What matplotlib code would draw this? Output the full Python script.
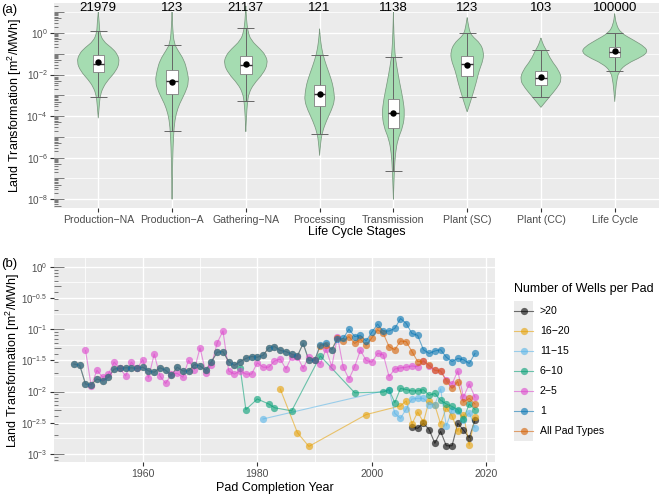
import numpy as np
import matplotlib
matplotlib.use("Agg")
import matplotlib.pyplot as plt
from matplotlib.patches import Rectangle, PathPatch
from matplotlib.path import Path
from matplotlib.lines import Line2D

plt.rcParams['font.family'] = ['Liberation Sans', 'DejaVu Sans']
plt.rcParams['mathtext.fontset'] = 'custom'
plt.rcParams['mathtext.rm'] = 'Liberation Sans'
plt.rcParams['mathtext.it'] = 'Liberation Sans:italic'
plt.rcParams['mathtext.bf'] = 'Liberation Sans:bold'

# ---------------- panel (a) data (log10 of m2/MWh) ----------------
stages = ['Production\u2212NA', 'Production\u2212A', 'Gathering\u2212NA', 'Processing',
          'Transmission', 'Plant (SC)', 'Plant (CC)', 'Life Cycle']
counts = ['21979', '123', '21137', '121', '1138', '123', '103', '100000']
whisker_low = [-3.06, -4.72, -3.28, -4.88, -6.64, -3.10, -3.07, -1.84]
q1 = [-1.87, -2.96, -1.98, -3.49, -4.59, -2.08, -2.51, -1.15]
median = [-1.47, -2.32, -1.55, -2.95, -3.84, -1.47, -2.19, -0.91]
q3 = [-1.07, -1.76, -1.10, -2.48, -3.20, -1.10, -1.82, -0.67]
whisker_high = [0.11, -0.56, 0.24, -1.07, -1.15, 0.02, -0.80, 0.02]
mean = [-1.42, -2.38, -1.47, -2.94, -3.84, -1.55, -2.11, -0.88]

# violin outlines: log10 value and half width (pixels)
violin_log = [
    [1.0, 0.5, 0.0, -0.4, -0.7, -1.0, -1.4, -1.85, -2.25, -2.6, -3.0, -3.5, -4.1],
    [1.0, 0.2, -0.5, -0.85, -1.3, -1.8, -2.35, -2.9, -3.4, -3.9, -4.5, -5.5, -6.5, -8.0],
    [1.3, 0.6, 0.1, -0.35, -0.8, -1.1, -1.47, -1.95, -2.45, -2.9, -3.4, -4.0, -4.75],
    [0.2, -0.4, -1.0, -1.6, -2.0, -2.45, -2.9, -3.25, -3.7, -4.2, -4.8, -5.3, -5.9],
    [1.0, 0.0, -1.0, -1.6, -2.4, -3.2, -3.85, -4.5, -5.1, -5.8, -6.6, -7.3, -8.0],
    [0.74, 0.3, 0.0, -0.2, -0.5, -0.9, -1.3, -1.8, -2.4, -3.05, -3.5, -3.8],
    [-0.24, -0.6, -0.83, -1.3, -1.8, -2.25, -2.65, -3.05, -3.4, -3.58],
    [0.93, 0.4, 0.0, -0.35, -0.67, -0.91, -1.15, -1.47, -1.84, -2.4, -3.31],
]
violin_halfwidth_px = [
    [0, 1, 1.5, 5, 13, 19, 21.5, 17.5, 10, 5, 2, 1, 0],
    [0, 0.7, 2, 6, 12, 15, 17, 13, 7.5, 4, 2, 1, 0.5, 0],
    [0, 0.8, 2, 5, 15, 20, 22, 17.5, 8, 3, 1.5, 0.7, 0],
    [0, 1, 3, 7, 10, 13, 14.5, 15, 12, 7, 2.5, 1, 0],
    [0, 0.5, 1.5, 3.3, 6.3, 9.7, 11.3, 9.7, 4.5, 2, 1, 0.5, 0],
    [0, 1.5, 3, 6, 13, 16.5, 16, 12, 9, 5, 2, 0],
    [0, 2.5, 5.5, 10, 18, 21, 16, 9, 3, 0],
    [0, 1.5, 6, 19, 30, 33, 27, 12.5, 4, 1.5, 0],
]

# ---------------- panel (b) data (log10 of m2/MWh) ----------------
years_gt20 = [2007, 2008, 2009, 2010, 2011, 2012, 2013, 2014, 2015, 2016, 2017, 2018]
log_gt20 = [-2.57, -2.59, -2.51, -2.61, -2.83, -2.64, -2.87, -2.87, -2.51, -2.62, -2.74, -2.46]

years_16_20 = [1984, 1987, 1989, 1999, 2005, 2006, 2007, 2008, 2009, 2010, 2011, 2012,
               2013, 2014, 2015, 2016, 2017, 2018]
log_16_20 = [-1.96, -2.66, -2.88, -2.37, -2.23, -2.15, -2.52, -2.33, -2.49, -2.15, -2.22, -2.52,
             -2.26, -2.39, -2.64, -2.37, -2.86, -2.41]

years_11_15 = [1981, 2003, 2004, 2005, 2006, 2007, 2008, 2009, 2010, 2011, 2012, 2013,
               2014, 2015, 2016, 2017, 2018]
log_11_15 = [-2.44, -1.97, -2.35, -2.43, -2.28, -2.12, -2.11, -2.11, -2.21, -2.21, -1.96, -2.55,
             -2.29, -2.32, -2.45, -2.34, -2.58]

years_6_10 = [1977, 1978, 1980, 1982, 1983, 1986, 1991, 1997, 2002, 2003, 2004, 2005, 2006,
              2007, 2008, 2009, 2010, 2011, 2012, 2013, 2014, 2015, 2016, 2017, 2018]
log_6_10 = [-1.62, -2.29, -2.12, -2.20, -2.26, -2.31, -1.43, -2.02, -2.01, -1.97, -2.18, -1.95, -1.97,
            -1.99, -1.99, -1.97, -2.06, -2.03, -2.14, -2.20, -2.24, -2.29, -2.44, -2.20, -2.29]

years_2_5 = list(range(1950, 2019))
log_2_5 = [-1.34, -1.91, -1.66, -1.77, -1.72, -1.53, -1.63, -1.75, -1.53, -1.63,
           -1.49, -1.78, -1.40, -1.75, -1.87, -1.72, -1.71, -1.77, -1.50, -1.65,
           -1.30, -1.70, -1.57, -1.22, -1.03, -1.67, -1.72, -1.67, -1.72, -1.72,
           -1.54, -1.61, -1.61, -1.51, -1.48, -1.64, -1.44, -1.44, -1.63, -1.44,
           -1.50, -1.56, -1.32, -1.60, -1.12, -1.61, -1.80, -1.60, -1.34, -1.50,
           -1.53, -1.39, -1.41, -1.76, -1.64, -1.62, -1.61, -1.59, -1.60, -1.51,
           -1.59, -1.66, -1.67, -1.81, -1.88, -1.67, -2.09, -1.88, -2.09]

years_1 = list(range(1948, 2019))
log_1 = [-1.56, -1.58, -1.88, -1.89, -1.80, -1.83, -1.77, -1.64, -1.63, -1.62,
         -1.62, -1.63, -1.61, -1.67, -1.69, -1.62, -1.66, -1.74, -1.61, -1.67,
         -1.67, -1.57, -1.59, -1.66, -1.52, -1.37, -1.36, -1.52, -1.58, -1.52,
         -1.47, -1.44, -1.45, -1.42, -1.30, -1.28, -1.34, -1.36, -1.40, -1.43,
         -1.23, -1.50, -1.50, -1.25, -1.23, -1.33, -1.16, -1.15, -1.00, -1.12,
         -1.10, -1.19, -1.05, -0.92, -1.03, -1.03, -0.99, -0.83, -0.91, -1.07,
         -1.10, -1.33, -1.39, -1.35, -1.33, -1.45, -1.52, -1.47, -1.49, -1.55,
         -1.39]

years_all = list(range(1948, 2019))
log_all = [-1.56, -1.58, -1.88, -1.89, -1.80, -1.83, -1.77, -1.64, -1.63, -1.62,
           -1.62, -1.63, -1.61, -1.67, -1.69, -1.62, -1.66, -1.74, -1.61, -1.67,
           -1.67, -1.57, -1.59, -1.66, -1.52, -1.37, -1.36, -1.52, -1.58, -1.52,
           -1.47, -1.44, -1.45, -1.42, -1.30, -1.28, -1.34, -1.36, -1.40, -1.43,
           -1.23, -1.50, -1.50, -1.27, -1.25, -1.33, -1.14, -1.19, -1.12, -1.23,
           -1.16, -1.26, -1.14, -1.01, -1.07, -1.28, -1.33, -1.19, -1.20, -1.36,
           -1.52, -1.51, -1.58, -1.66, -1.67, -1.83, -1.95, -1.84, -2.17, -2.11,
           -2.20]

series_labels = ['>20', '16\u221220', '11\u221215', '6\u221210', '2\u22125', '1', 'All Pad Types']
series_years = [years_gt20, years_16_20, years_11_15, years_6_10, years_2_5, years_1, years_all]
series_logs = [log_gt20, log_16_20, log_11_15, log_6_10, log_2_5, log_1, log_all]
series_colors = ['#000000', '#E69F00', '#56B4E9', '#009E73', '#DD44CC', '#0072B2', '#D55E00']
draw_order = [0, 1, 2, 3, 4, 6, 5]

# ---------------- figure ----------------
W, H = 661, 496
fig = plt.figure(figsize=(W / 100, H / 100), dpi=100)


def rect(l, t, r, b):
    return [l / W, 1 - b / H, (r - l) / W, (b - t) / H]


BG = '#EBEBEB'
TXT = '#4D4D4D'
axA = fig.add_axes(rect(54, 3, 659, 208))
axB = fig.add_axes(rect(54, 258, 495, 462))
for ax in (axA, axB):
    ax.set_facecolor(BG)
    for s in ax.spines.values():
        s.set_visible(False)
    ax.set_yscale('log')
    ax.tick_params(axis='both', which='major', length=3.2, width=0.8, color='#333333',
                   labelcolor=TXT, pad=1.5)
    ax.tick_params(axis='both', which='minor', length=0)


def logticks(ax, lo, hi, px_width):
    trans = ax.get_yaxis_transform()
    for k in range(int(np.floor(lo)) - 1, int(np.ceil(hi)) + 1):
        for m in range(1, 10):
            v = m * 10.0 ** k
            if not (10 ** lo <= v <= 10 ** hi):
                continue
            L = 10 if m == 1 else (7 if m == 5 else 3.7)
            ax.plot([0, L / px_width], [v, v], transform=trans, color='#666666',
                    lw=0.6, zorder=1, solid_capstyle='butt')


# ----- panel (a) -----
PX_PER_CAT = 73.8
ylo_a, yhi_a = -8.42, 1.44
axA.set_xlim(0.4, 8.6)
axA.set_ylim(10 ** ylo_a, 10 ** yhi_a)
for k in range(-8, 2):
    axA.axhline(10.0 ** k, color='white', lw=1.0 if k % 2 == 0 else 0.55, zorder=0.5)
for i in range(len(stages)):
    axA.axvline(i + 1, color='white', lw=1.0, zorder=0.5)
logticks(axA, ylo_a, yhi_a, 605)

for i in range(len(stages)):
    c = i + 1
    ys = violin_log[i]
    ws = [w / PX_PER_CAT for w in violin_halfwidth_px[i]]
    right = [(c + w, 10 ** y) for y, w in zip(ys, ws)]
    left = [(c - w, 10 ** y) for y, w in zip(ys, ws)][::-1]
    pts = [right[0]] + right + [right[-1]] + left[1:] + [left[-1]]
    verts = [pts[0], ((pts[0][0] + pts[1][0]) / 2, (pts[0][1] + pts[1][1]) / 2)]
    codes = [Path.MOVETO, Path.LINETO]
    for j in range(1, len(pts) - 1):
        mid = ((pts[j][0] + pts[j + 1][0]) / 2, np.sqrt(pts[j][1] * pts[j + 1][1]))
        verts += [pts[j], mid]
        codes += [Path.CURVE3, Path.CURVE3]
    verts.append(pts[-1])
    codes.append(Path.LINETO)
    axA.add_patch(PathPatch(Path(verts, codes), facecolor='#A5DCB1', edgecolor='#7A987F',
                            lw=0.55, zorder=2))
    axA.vlines(c, 10 ** whisker_low[i], 10 ** whisker_high[i], color='#666666', lw=0.7, zorder=3)
    axA.hlines([10 ** whisker_low[i], 10 ** whisker_high[i]], c - 0.115, c + 0.115,
               color='#666666', lw=0.7, zorder=3)
    axA.add_patch(Rectangle((c - 0.078, 10 ** q1[i]), 0.156, 10 ** q3[i] - 10 ** q1[i],
                            facecolor='white', edgecolor='#808080', lw=0.6, zorder=4))
    axA.hlines(10 ** median[i], c - 0.078, c + 0.078, color='#333333', lw=1.0, zorder=5)
    axA.plot(c, 10 ** mean[i], 'o', color='black', ms=4.6, mew=0, zorder=6)
    axA.text(c, 0.975, counts[i], transform=axA.get_xaxis_transform(), ha='center',
             va='center', fontsize=9.5, color='black', zorder=7)

axA.set_xticks(range(1, len(stages) + 1))
axA.set_xticklabels(stages, fontsize=7.6)
yt = [0, -2, -4, -6, -8]
axA.set_yticks([10.0 ** k for k in yt])
axA.set_yticklabels(['$10^{%d}$' % k for k in yt], fontsize=7.2)
axA.yaxis.set_minor_locator(matplotlib.ticker.NullLocator())

# ----- panel (b) -----
ylo_b, yhi_b = -3.13, 0.14
axB.set_xlim(1944.5, 2021.5)
axB.set_ylim(10 ** ylo_b, 10 ** yhi_b)
for e in np.arange(-3.0, 0.01, 0.5):
    axB.axhline(10 ** e, color='white', lw=1.0, zorder=0.5)
for e in np.arange(-2.75, 0.2, 0.5):
    axB.axhline(10 ** e, color='white', lw=0.55, zorder=0.5)
for yv in [1960, 1980, 2000, 2020]:
    axB.axvline(yv, color='white', lw=1.0, zorder=0.5)
for yv in [1950, 1970, 1990, 2010]:
    axB.axvline(yv, color='white', lw=0.55, zorder=0.5)
logticks(axB, ylo_b, yhi_b, 441)

for idx in draw_order:
    axB.plot(series_years[idx], 10 ** np.array(series_logs[idx]), '-', color=series_colors[idx],
             lw=0.8, alpha=0.55, zorder=2)
for idx in draw_order:
    axB.plot(series_years[idx], 10 ** np.array(series_logs[idx]), 'o', color=series_colors[idx],
             ms=5.2, mew=0, alpha=0.6, zorder=3)

axB.set_xticks([1960, 1980, 2000, 2020])
axB.set_xticklabels(['1960', '1980', '2000', '2020'], fontsize=7.6)
ytb = ['0', '-0.5', '-1', '-1.5', '-2', '-2.5', '-3']
axB.set_yticks([10 ** float(s) for s in ytb])
axB.set_yticklabels(['$10^{%s}$' % s for s in ytb], fontsize=7.0)
axB.yaxis.set_minor_locator(matplotlib.ticker.NullLocator())

# ----- titles / labels -----
fig.text(1 / W, 1 - 10 / H, '(a)', ha='left', va='center', fontsize=9.5)
fig.text(1 / W, 1 - 264 / H, '(b)', ha='left', va='center', fontsize=9.5)
ylab = 'Land Transformation [m$^2$/MWh]'
fig.text(15 / W, 1 - 105.5 / H, ylab, rotation=90, ha='center', va='center', fontsize=9)
fig.text(13 / W, 1 - 360 / H, ylab, rotation=90, ha='center', va='center', fontsize=9)
fig.text(357 / W, 1 - 232 / H, 'Life Cycle Stages', ha='center', va='center', fontsize=9)
fig.text(275 / W, 1 - 488 / H, 'Pad Completion Year', ha='center', va='center', fontsize=9)

# ----- legend -----
fig.text(514 / W, 1 - 289 / H, 'Number of Wells per Pad', ha='left', va='center', fontsize=9)
fig.add_artist(Rectangle((514 / W, 1 - 440.7 / H), 19 / W, 140 / H, transform=fig.transFigure,
                         facecolor=BG, edgecolor='none'))
for j, lab in enumerate(series_labels):
    yc = 1 - (310.7 + 20 * j) / H
    fig.add_artist(Line2D([514 / W, 533 / W], [yc, yc], transform=fig.transFigure,
                          color=series_colors[j], lw=0.8, alpha=0.55))
    fig.add_artist(Line2D([523.5 / W], [yc], transform=fig.transFigure, marker='o', ms=5.2,
                          mew=0, color=series_colors[j], alpha=0.6, linestyle='none'))
    fig.text(540 / W, yc, lab, ha='left', va='center', fontsize=7.6, color='black')

fig.savefig('out.png', dpi=100)
